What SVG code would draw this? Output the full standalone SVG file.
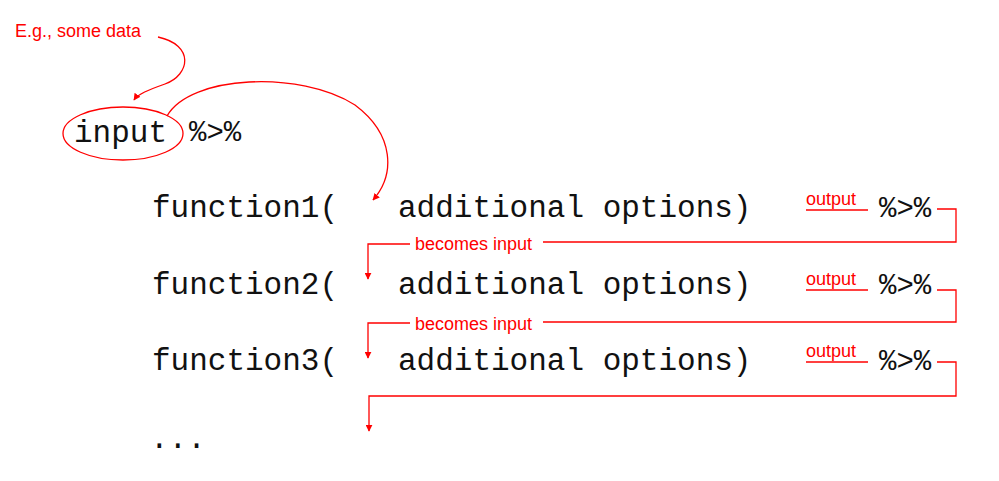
<svg xmlns="http://www.w3.org/2000/svg" width="999" height="481" viewBox="0 0 999 481">
<style>
.code{font-family:"Liberation Mono","Courier New",monospace;font-size:31px;fill:#111}
.pipe{font-family:"Liberation Mono","Courier New",monospace;font-size:29px;fill:#111}
.note{font-family:"Liberation Sans",Arial,sans-serif;font-size:18px;fill:#ff0000}
.ln{fill:none;stroke:#ff0000;stroke-width:1.3}
</style>
<defs>
<marker id="ah" viewBox="0 0 10 10" refX="9" refY="5" markerWidth="7" markerHeight="7" markerUnits="userSpaceOnUse" orient="auto">
<path d="M0,0 L10,5 L0,10 z" fill="#ff0000"/>
</marker>
</defs>
<rect width="999" height="481" fill="#ffffff"/>
<g id="note-data"><text class="note" x="15" y="37">E.g., some data</text></g>
<g id="input">
<ellipse class="ln" cx="123" cy="133.5" rx="60" ry="26.5"/>
<text class="code" x="74" y="142">input</text>
<text class="pipe" x="189" y="141">%&gt;%</text>
</g>
<g id="function1">
<text class="code" x="152" y="217">function1(</text>
<text class="code" x="398" y="217">additional options)</text>
<text class="note" x="806" y="205">output</text>
<text class="pipe" x="879" y="217">%&gt;%</text>
</g>
<g id="function2">
<text class="code" x="152" y="294">function2(</text>
<text class="code" x="398" y="294">additional options)</text>
<text class="note" x="806" y="285">output</text>
<text class="pipe" x="879" y="294">%&gt;%</text>
</g>
<g id="function3">
<text class="code" x="152" y="370">function3(</text>
<text class="code" x="398" y="370">additional options)</text>
<text class="note" x="806" y="357">output</text>
<text class="pipe" x="879" y="370">%&gt;%</text>
</g>
<g id="ellipsis"><text class="code" x="150" y="448">...</text></g>
<g id="connectors">
<path class="ln" d="M158,37 C195,45 190,75 165,84 C148,90 138,94 134,100" marker-end="url(#ah)"/>
<path class="ln" d="M167,116 C190,75 300,70 355,105 C395,135 395,175 373,200" marker-end="url(#ah)"/>
<line class="ln" x1="806" y1="210" x2="868" y2="210"/>
<path class="ln" d="M937,209 H956 V242 H543"/>
<text class="note" x="415" y="250">becomes input</text>
<path class="ln" d="M410,244 H368 V279" marker-end="url(#ah)"/>
<line class="ln" x1="806" y1="290" x2="868" y2="290"/>
<path class="ln" d="M937,290 H956 V322 H543"/>
<text class="note" x="415" y="330">becomes input</text>
<path class="ln" d="M410,323 H368 V358" marker-end="url(#ah)"/>
<line class="ln" x1="806" y1="362" x2="868" y2="362"/>
<path class="ln" d="M937,362 H956 V396 H369 V431" marker-end="url(#ah)"/>
</g>
</svg>
